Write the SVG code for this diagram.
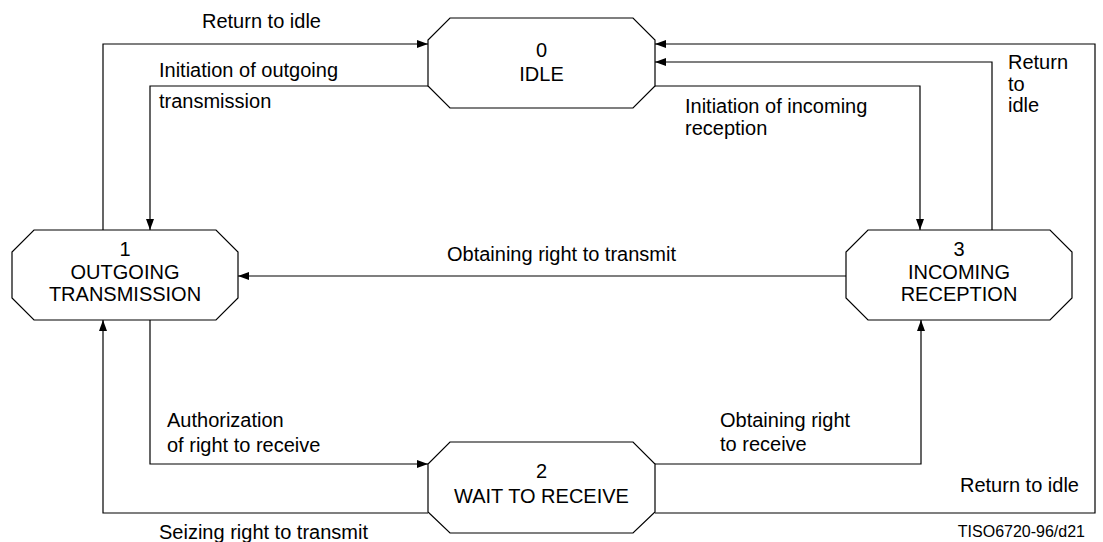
<svg xmlns="http://www.w3.org/2000/svg" width="1103" height="542" viewBox="0 0 1103 542">
<defs>
<style>
.node{fill:#fff;stroke:#000;stroke-width:1.2}
.nt{font-family:"Liberation Sans",Arial,sans-serif;font-size:20px;fill:#000;text-anchor:middle}
.lbl{font-family:"Liberation Sans",Arial,sans-serif;font-size:20px;fill:#000}
.ft{font-family:"Liberation Sans",Arial,sans-serif;font-size:16px;fill:#000;text-anchor:end}
.c{fill:none;stroke:#000;stroke-width:1.2}
</style>
<marker id="ah" viewBox="0 0 11 8" refX="11" refY="4" markerWidth="11" markerHeight="8" markerUnits="userSpaceOnUse" orient="auto">
<path d="M0,0 L11,4 L0,8 z" fill="#000"/>
</marker>
</defs>
<rect width="1103" height="542" fill="#fff"/>
<g id="connectors">
<path class="c" d="M103,230 V44 H428" marker-end="url(#ah)"/>
<path class="c" d="M428,86 H150 V230" marker-end="url(#ah)"/>
<path class="c" d="M655,86 H920 V230" marker-end="url(#ah)"/>
<path class="c" d="M992,230 V62 H655" marker-end="url(#ah)"/>
<path class="c" d="M655,513 H1095 V44 H655" marker-end="url(#ah)"/>
<path class="c" d="M846,276 H238" marker-end="url(#ah)"/>
<path class="c" d="M150,320 V464 H428" marker-end="url(#ah)"/>
<path class="c" d="M428,513 H103 V320" marker-end="url(#ah)"/>
<path class="c" d="M655,464 H921 V320" marker-end="url(#ah)"/>
</g>
<g id="node-idle">
<polygon class="node" points="450,18 633,18 655,40 655,86 633,108 450,108 428,86 428,40"/>
<text class="nt" x="541.5" y="57">0</text>
<text class="nt" x="541.5" y="81">IDLE</text>
</g>
<g id="node-outgoing">
<polygon class="node" points="34,230 216,230 238,252 238,298 216,320 34,320 12,298 12,252"/>
<text class="nt" x="125" y="256">1</text>
<text class="nt" x="125" y="279">OUTGOING</text>
<text class="nt" x="125" y="301">TRANSMISSION</text>
</g>
<g id="node-incoming">
<polygon class="node" points="868,230 1050,230 1072,252 1072,298 1050,320 868,320 846,298 846,252"/>
<text class="nt" x="959" y="256">3</text>
<text class="nt" x="959" y="279">INCOMING</text>
<text class="nt" x="959" y="301">RECEPTION</text>
</g>
<g id="node-wait">
<polygon class="node" points="450,442 633,442 655,464 655,512 633,533 450,533 428,512 428,464"/>
<text class="nt" x="541.5" y="478">2</text>
<text class="nt" x="541.5" y="503">WAIT TO RECEIVE</text>
</g>
<g id="labels">
<text class="lbl" x="202" y="28">Return to idle</text>
<text class="lbl" x="159" y="77">Initiation of outgoing</text>
<text class="lbl" x="159" y="108">transmission</text>
<text class="lbl" x="685" y="113">Initiation of incoming</text>
<text class="lbl" x="685" y="135">reception</text>
<text class="lbl" x="1008" y="69">Return</text>
<text class="lbl" x="1008" y="91">to</text>
<text class="lbl" x="1008" y="112">idle</text>
<text class="lbl" x="447" y="261">Obtaining right to transmit</text>
<text class="lbl" x="167" y="427">Authorization</text>
<text class="lbl" x="167" y="452">of right to receive</text>
<text class="lbl" x="720" y="427">Obtaining right</text>
<text class="lbl" x="720" y="451">to receive</text>
<text class="lbl" x="960" y="492">Return to idle</text>
<text class="lbl" x="159" y="539">Seizing right to transmit</text>
<text class="ft" x="1085" y="537">TISO6720-96/d21</text>
</g>
</svg>
